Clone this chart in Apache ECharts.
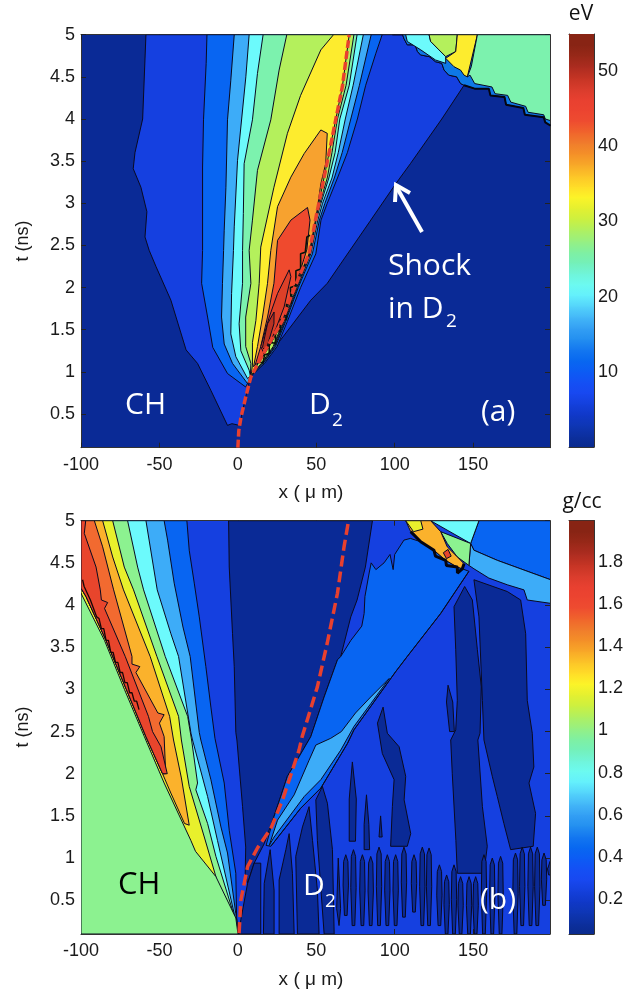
<!DOCTYPE html>
<html>
<head>
<meta charset="utf-8">
<script src="https://cdn.jsdelivr.net/npm/echarts@6/dist/echarts.min.js"></script>
<style>
  html, body { margin: 0; background: #fff; }
  #main { width: 637px; height: 994px; }
  /* the reference is a soft, resampled bitmap */
  #main canvas { filter: blur(0.5px); }
</style>
</head>
<body>
<div id="main"></div>
<script>
// axis ticks
var xTicks = [-100, -50, 0, 50, 100, 150];
var tTicks = [0.5, 1, 1.5, 2, 2.5, 3, 3.5, 4, 4.5, 5];
var evTicks = [10, 20, 30, 40, 50];
var rhoTicks = [0.2, 0.4, 0.6, 0.8, 1, 1.2, 1.4, 1.6, 1.8];

// colorbar, bottom to top
var barColors = ['#0a2a8c','#0c2f9e','#0e36b4','#1038c8','#1440dc','#1848f0','#1450f4','#0c5cf4','#0868f0','#1478f0',
  '#2490f0','#34a0f4','#44b8f8','#54d4fb','#64f0fc','#6cfaf0','#70f4d8','#74f0b8','#80f0a0','#98f080','#b0f060',
  '#ccf040','#e4f030','#fcf428','#ffdc28','#fcc428','#f8a828','#f49028','#f07c2c','#f0642c','#ee4c30','#ec4430',
  '#e84030','#d83c2c','#c43424','#ac2c20','#982818','#882414'];

// band colours
var navy = '#0a2a96', blue = '#1540e0', azure = '#0865f2', sky = '#3dacf8', cyan = '#6cfafc', green = '#7cf2ae',
  lime = '#b4f05c', yellow = '#fdec2e', orange = '#f7a22f', red = '#ef4a2e', dred = '#dc4028', ddred = '#b83222';
var chGreen = '#8cf290', bYellow = '#e8f02c', bOrange = '#fbb22c', bOrange2 = '#f26a30', bRed = '#e8452c';

// ---- panel (a), temperature contours as [x um, t ns] ----
var aInterface = [[0,0.1],[0.6,0.3],[2,0.46],[5,0.7],[8.3,0.94],[14.6,1.16],[21,1.37],[28.4,1.61],[34,1.9],[40,2.17],[45.4,2.4],[50,2.85],[56,3.4],[61.4,3.9],[66.6,4.38],[71,5]];
var aLeft1 = [[1,0.37],[-0.2,0.37],[-3.8,0.385],[-6.6,0.365],[-17.2,0.78],[-25.7,1.1],[-33,1.26],[-42.7,1.85],[-52.2,2.25],[-56.5,2.44],[-59.2,2.6],[-58,2.9],[-61.8,3.19],[-66.7,3.41],[-65.6,3.6],[-60.7,4],[-58.6,5]];
var aStair = [[98.5,5],[105,5],[106,4.95],[108,4.88],[113,4.88],[114.5,4.8],[116.5,4.76],[122,4.74],[126,4.68],[130,4.66],[131.5,4.58],[134.5,4.52],[139.5,4.5],[142,4.42],[144.2,4.4]];
var aShock = [[130,4],[110,3.47],[100.6,3.23],[84,2.78],[67.7,2.34],[57,2.05],[46.5,1.85],[35.9,1.59],[25.3,1.33],[14.6,1.1],[8,0.94],[5,0.7]];
var aLeft2 = [[5,0.82],[-6.6,0.98],[-16,1.29],[-19.3,1.65],[-23.1,2.05],[-22.5,2.44],[-22.5,3.43],[-21.9,3.99],[-20.2,4.66],[-19.7,5]];
var aRight2 = [[92,5],[88,4.78],[81.5,4.4],[76.2,4],[69.8,3.6],[63.5,3.3],[57,3],[53,2.8],[49.7,2.4],[40,2],[31.6,1.6],[25,1.3],[17,1.1],[8.5,0.95]];
var aLeft3 = [[6.2,0.86],[-3.4,1.1],[-8.7,1.33],[-10.4,1.65],[-9.8,2.05],[-9.1,2.44],[-8.7,2.68],[-7.6,3.19],[-6.6,3.99],[-4.5,4.46],[-2.3,5]];
var aRight3 = [[85,5],[77.5,4.4],[72,4],[66.5,3.6],[61.5,3.3],[55.5,3],[52,2.8],[47.5,2.4],[38.5,2],[30.5,1.6],[24,1.3],[16,1.1],[8,0.95]];
var aLeft4 = [[6.2,0.92],[-1.3,1.18],[-4.5,1.45],[-4,1.93],[-2.8,2.44],[-2.3,2.72],[-0.2,3.51],[5.1,4.5],[7.2,5]];
var aRight4 = [[80,5],[73.5,4.4],[68.5,4],[64,3.6],[60,3.3],[54,3],[51,2.8],[46.5,2.4],[38,2],[30,1.6],[23.5,1.3],[16,1.1],[8,0.95]];
var aLeft5 = [[7.2,1.02],[1.9,1.25],[0.8,1.57],[3,2.05],[3,2.44],[3.5,2.88],[4,3.47],[9.3,3.99],[12.5,4.54],[16.1,5]];
var aRight5 = [[76,5],[71,4.4],[65,4],[62,3.6],[58,3.3],[53,3],[50,2.8],[46,2.4],[37.5,2],[29.5,1.6],[23,1.3],[15.5,1.1],[8,0.95]];
var aLeft6 = [[8.3,1.1],[5,1.3],[5,1.65],[8.3,2.05],[7.2,2.44],[9.3,2.8],[12.5,3.39],[21,3.99],[26.3,4.58],[31.2,5]];
var aRight6 = [[74,5],[69,4.4],[63.5,4],[60,3.6],[57,3.3],[52.3,3],[49,2.8],[45.5,2.4],[37,2],[29,1.6],[22.5,1.3],[15,1.1],[8,0.95]];
var aLeft7 = [[9.3,1.08],[9.3,1.35],[11.5,1.61],[13.6,2.05],[14.6,2.48],[23,3.19],[31.6,3.83],[40,4.28],[52.9,4.82],[61,5]];
var aRight7 = [[71,5],[66.6,4.38],[61.4,3.9],[56,3.4],[50,2.85],[45.4,2.4],[40,2.17],[34,1.9],[28.4,1.61],[21,1.37],[14.6,1.16],[8.3,0.94]];
var aOrange = [[10,1.06],[12.5,1.3],[15.7,1.65],[18.9,2.05],[21,2.44],[25.3,2.96],[33.8,3.31],[42.3,3.59],[52.9,3.87],[57,3.83],[56,3.47],[52.9,3.23],[50,2.85],[45.4,2.4],[40,2.17],[34,1.9],[28.4,1.61],[21,1.37],[14.6,1.16]];
var aRed = [[11,1.08],[14.6,1.3],[18.9,1.65],[23,2.05],[25.3,2.56],[33.8,2.8],[44.4,2.95],[46,2.8],[44,2.45],[39,2.15],[33,1.85],[27.5,1.55],[20,1.3],[14,1.12]];
var aDarkRed = [[14.6,1.3],[20,1.65],[25.3,1.93],[32.7,2.21],[33.8,2.13],[29.5,1.77],[23,1.45],[16.8,1.21]];
var aDarkest = [[15.7,1.29],[18.9,1.57],[23.1,1.71],[23,1.57],[17.8,1.25]];
var aTopEdge = [[98.5,5],[199.4,5],[199.4,3.92],[196,3.96],[195,4.02],[183,4.05],[182,4.13],[171,4.17],[170,4.26],[161,4.28],[160,4.36],[151,4.36],[144.2,4.4],[142,4.42],[139.5,4.5],[134.5,4.52],[131.5,4.58],[130,4.66],[126,4.68],[122,4.74],[116.5,4.76],[114.5,4.8],[113,4.88],[108,4.88],[106,4.95],[105,5]];
var aTopGreen = [[152.7,5],[199.4,5],[199.4,3.98],[196,4],[195,4.05],[185,4.08],[183.5,4.15],[174,4.2],[172,4.28],[164,4.3],[162,4.38],[151,4.42],[148,4.52],[146.3,4.5],[148.8,4.62]];
var aTopYellow = [[139.9,5],[152.7,5],[146.3,4.5],[144.2,4.52],[142,4.58],[137.8,4.62],[132.5,4.72],[138.9,4.8]];
var aTopLime = [[121.9,5],[139.9,5],[138.9,4.8],[132.5,4.74],[128.2,4.82],[122.9,4.92]];
var aTopCyan = [[107,5],[121.9,5],[122.9,4.92],[128.2,4.82],[132.5,4.74],[132.5,4.66],[126,4.7],[116.6,4.82],[108,4.92]];
var aNoise = [[14,1.12],[16,1.1],[17,1.2],[20,1.22],[20,1.35],[24,1.34],[24,1.5],[27,1.48],[27,1.62],[31,1.62],[31,1.8],[34,1.82],[33.5,2],[37,2.02],[37,2.2],[40,2.22],[40,2.4],[43,2.42],[44,2.6],[46,2.62]];
var aStairLine = [[144.2,4.4],[151,4.36],[160,4.36],[161,4.28],[170,4.26],[171,4.17],[182,4.13],[183,4.05],[195,4.02],[196,3.96],[199.4,3.92]];

// ---- panel (b), density contours ----
var bInterface = [[0.8,0.11],[1.9,0.5],[6.2,0.9],[12.5,1.12],[21,1.35],[28.5,1.69],[39,2.28],[41,2.44],[50.7,3.03],[57,3.55],[63.5,4.14],[67.7,4.69],[70.3,4.97]];
var bAzureL = [[-32.5,5],[-31,4.65],[-27.8,4.26],[-24.6,3.86],[-20.4,3.27],[-17.2,2.79],[-14.6,2.42],[-8.7,1.89],[-5.5,1.33],[-1.3,0.82],[-0.8,0.3]];
var bSkyL = [[-47,5],[-44.8,4.77],[-40.6,4.26],[-35,3.74],[-30.4,3.39],[-24.6,2.49],[-23.6,2.4],[-17.2,1.93],[-10.8,1.37],[-6.6,1.06],[-1.3,0.34]];
var bCyanL = [[-58.6,5],[-51.4,4.18],[-42.7,3.66],[-37.8,3.39],[-29.9,2.48],[-28.9,2.4],[-19.3,1.73],[-13,1.21],[-2.3,0.34]];
var bGreenL = [[-70.3,5],[-63.9,4.45],[-60.1,4.18],[-46.3,3.39],[-32,2.68],[-29.5,2.4],[-25.7,1.89],[-26.8,1.81],[-19.3,1.41],[-14,1.02],[-3.4,0.38]];
var bYellowL = [[-79.8,5],[-72.4,4.45],[-66.5,4.18],[-51.6,3.39],[-37.8,2.68],[-36,2.4],[-31,1.85],[-21.4,1.25],[-14,0.78]];
var bOrangeL = [[-86.2,5],[-79.8,4.57],[-72.9,4.18],[-55.9,3.39],[-43.5,2.68],[-41,2.4],[-36,1.95],[-31,1.39]];
var bOrange2L = [[-91.5,5],[-86.2,4.69],[-79.2,4.18],[-67.5,3.39],[-67.5,3.3],[-62.5,3.27],[-65,3.2],[-51,2.72],[-47,2.7],[-50,2.6],[-47,2.44],[-46,2]];
var bRedL = [[-97,5],[-97.9,4.85],[-90.4,4.45],[-87.7,4.18],[-87,4.06],[-83,4.03],[-85,3.96],[-71.8,3.39],[-57,2.68],[-54.4,2.5],[-49,2.32],[-45,2]];
var bLowerEdge = [[-31,1.39],[-34,1.41],[-42.7,1.77],[-48,2],[-58.6,2.44],[-71.3,3.01],[-84,3.58],[-96.8,4.1],[-100,4.2]];
var bCH = [[-100,4.14],[-85,3.58],[-72.3,3],[-59.6,2.44],[-47,1.89],[-30,1.21],[-27,1.08],[-14,0.78],[-1.3,0.29],[0,0.11],[0,0.1],[-100,0.1]];
var bNoise = [[-99,4.3],[-98,4.22],[-97,4.24],[-96,4.14],[-95,4.16],[-94,4.06],[-93,4.06],[-92,3.96],[-91,3.96],[-90,3.86],[-88.5,3.84],[-87,3.72],[-85.5,3.72],[-84,3.58],[-82.5,3.58],[-81,3.44],[-79.5,3.44],[-78,3.32],[-76.5,3.32],[-75,3.2],[-73.5,3.2],[-72,3.08],[-70.5,3.08],[-69,2.96],[-67.5,2.96],[-66,2.86],[-64.5,2.86],[-63,2.76]];
var bNavy = [[4.7,0.82],[5,1.13],[3,1.61],[-0.6,2.4],[-1.3,2.49],[-2.3,3.27],[-3.4,3.66],[-5.5,4.45],[-5.9,5],[85.8,5],[81.3,4.45],[76,4.06],[72,3.86],[65.6,3.39],[63.5,3.35],[55,2.91],[46.5,2.44],[39,2.2],[31.6,1.97],[23,1.49],[16.8,1.17],[10.4,0.94],[6.2,0.7]];
var bWedge = [[1.9,0.27],[6.2,0.7],[10.4,0.94],[14.6,0.94],[14.6,0.1],[0.8,0.1]];
var bAzureWedge = [[65.6,3.39],[72,3.58],[79,3.75],[80.5,3.9],[81,4.1],[83.7,4.38],[85,4.5],[88,4.42],[93.2,4.5],[97,4.6],[99,4.42],[100,4.6],[105.9,4.77],[110,4.79],[116.6,4.75],[125,4.65],[132.5,4.53],[139.9,4.45],[143.1,4.43],[147.3,4.4],[129.3,3.9],[108,3.39],[100.6,3.21],[74,2.52],[69.9,2.36],[52.9,1.83],[40,1.59],[21,1.14],[18,1.15],[23,1.49],[31.6,1.97],[39,2.2],[46.5,2.44],[55,2.91],[63.5,3.35]];
var bSkyWedge = [[20,1.15],[25.3,1.45],[35.9,1.75],[45.4,2.16],[49.7,2.34],[59.2,2.42],[66,2.5],[75,2.72],[84.7,2.91],[96.5,3.13],[84.7,2.83],[74,2.56],[65.6,2.28],[52.9,1.93],[42.3,1.73],[23.1,1.25]];
var bTopAzure = [[153.7,5],[199.4,5],[199.4,4.3],[165.4,4.53],[150.5,4.65],[148.4,4.73]];
var bTopSky = [[148.4,4.73],[150.5,4.65],[165.4,4.53],[199.4,4.3],[199.4,4.02],[184.5,4.06],[182.4,4.18],[171.8,4.24],[160,4.32],[150.5,4.43],[147.3,4.47]];
var bTopCyan = [[122.9,5],[153.7,5],[148.4,4.73]];
var bTopGreen = [[129.3,4.87],[148.4,4.73],[147.3,4.47],[139.9,4.57],[133.5,4.73]];
var bTopOrange = [[107,5],[122.9,5],[129.3,4.87],[133.5,4.69],[138.9,4.59],[144.2,4.49],[143.1,4.43],[139.9,4.45],[132.5,4.53],[125,4.65],[116.6,4.75],[110.2,4.87]];
var bTopYellow = [[107,5],[116.6,5],[118,4.9],[112,4.87]];
var bTopRed = [[131,4.62],[134,4.66],[136,4.58],[133,4.55]];
var bStairLine = [[110.2,4.87],[116.6,4.75],[125,4.65],[126,4.58],[132.5,4.53],[133,4.47],[139.9,4.45],[140,4.38],[143.1,4.43],[144.2,4.49]];
var bShock = [[147.3,4.4],[129.3,3.9],[108,3.39],[100.6,3.21],[74,2.52],[69.9,2.36],[52.9,1.83],[40,1.59],[21,1.14]];
// large dark fingers below the shock
var bTall1 = [[144.6,4.22],[149.5,4.06],[152.7,3.47],[155.2,3.03],[154.4,2.48],[153,2.4],[155.9,1.61],[159,1.14],[156.9,0.82],[139.9,0.82],[139,1.21],[136.7,2],[135.7,2.4],[138.9,2.52],[139.9,2.87],[138.9,3.47],[137.8,3.98]];
var bTall2 = [[150.5,4.3],[171.8,4.16],[180.3,4.06],[183.5,3.66],[184.5,2.87],[187.7,2.48],[188.7,2.08],[185.6,1.89],[189.8,1.53],[188.3,1.14],[173.9,1.1],[169.6,1.41],[165.4,1.73],[162.2,1.97],[156.9,2.4],[155.9,2.87],[153.7,3.86]];
var bTall3 = [[134,3.05],[133,2.85],[135,2.5],[138,2.5],[137,2.85]];
var bTall4 = [[92.6,2.79],[95.3,2.48],[102.8,2.32],[107,1.97],[106,1.69],[110.2,1.29],[108,1.14],[97.4,1.14],[98.5,1.61],[99.6,1.93],[92.1,2.24],[89,2.6]];
var bTall5 = [[73,2.14],[75.5,1.7],[75,1.2],[71,1.2],[71,1.7]];
var bTall6 = [[82,1.75],[83.5,1.4],[84,1.1],[80.5,1.1],[80.5,1.4]];
var bTall7 = [[91,1.5],[92,1.25],[90,1.25]];
var bLow1 = [[20.6,1.1],[23.1,0.62],[23.1,0.1],[16.3,0.1],[16.8,0.7]];
var bLow2 = [[32.7,1.29],[34.8,0.82],[35.9,0.1],[26.3,0.1],[26.3,0.74],[30.6,1.1]];
var bLow3 = [[45.4,1.61],[47.6,1.21],[50.7,0.62],[51.8,0.1],[38,0.1],[36.9,1.02],[41.2,1.37]];
var bLow4 = [[53.9,1.85],[57.1,1.65],[60.3,1.1],[61.4,0.1],[55,0.1],[50.7,1.21],[49.7,1.69]];
var bLow5 = [[64,1.0],[65.5,0.4],[64.5,0.2],[63,0.4]];
// narrow fingers near the bottom: centre, top and bottom
var fingerX = [68.8,73.7,79.4,84.7,90,95.3,100.6,105.9,112.3,117.6,121.9,128.5,133.1,137.8,142,147.4,151.6,156.9,162.2,167.5,177,181.3,186.6,190.9,195.2,199];
var fingerTop = [1.04,1.1,1.04,1.02,1.13,1.04,1.04,1.13,1.04,1.13,1.12,0.92,0.8,0.92,0.78,0.78,0.78,1.04,1,1.02,1.06,1.13,1.13,1.13,1.06,0.96];
var fingerBot = [0.32,0.2,0.2,0.2,0.2,0.2,0.2,0.3,0.36,0.2,0.2,0.2,0.1,0.1,0.1,0.1,0.1,0.1,0.1,0.1,0.1,0.2,0.2,0.2,0.44,0.8];

var LEFT_X = -100, RIGHT_X = 199, MIN_T = 0.1, MAX_T = 5;

function finger(x, top, bot) {
  var w = 1.7;
  return [[x, top], [x + w * 0.8, top - 0.08], [x + w, (top + bot) / 2], [x + w * 0.5, bot], [x - w * 0.5, bot], [x - w, (top + bot) / 2], [x - w * 0.8, top - 0.08]];
}

var aLayers = [
  [aLeft1.concat(aStair, aShock), blue],
  [aLeft2.concat(aRight2), azure],
  [aLeft3.concat(aRight3), sky],
  [aLeft4.concat(aRight4), cyan],
  [aLeft5.concat(aRight5), green],
  [aLeft6.concat(aRight6), lime],
  [aLeft7.concat(aRight7), yellow],
  [aOrange, orange],
  [aRed, red],
  [aDarkRed, dred],
  [aDarkest, ddred],
  [aTopEdge, '#0e78e6'],
  [aTopCyan, cyan],
  [aTopLime, lime],
  [aTopYellow, yellow],
  [aTopGreen, green]
];

function leftBand(boundary) {
  return [[LEFT_X, MAX_T]].concat(boundary, [[0.5, MIN_T], [LEFT_X, MIN_T]]);
}

var bLayers = [
  [leftBand(bAzureL), azure],
  [leftBand(bSkyL), sky],
  [leftBand(bCyanL), cyan],
  [leftBand(bGreenL), chGreen],
  [[[LEFT_X, MAX_T]].concat(bYellowL, [[-14, 0.6], [LEFT_X, 0.6]]), bYellow],
  [[[LEFT_X, MAX_T]].concat(bOrangeL, bLowerEdge), bOrange],
  [[[LEFT_X, MAX_T]].concat(bOrange2L, bLowerEdge.slice(3)), bOrange2],
  [[[LEFT_X, MAX_T]].concat(bRedL, bLowerEdge.slice(3)), bRed],
  [bCH, chGreen],
  [bNavy, navy],
  [bAzureWedge, azure],
  [bSkyWedge, sky],
  [bTopAzure, azure],
  [bTopSky, sky],
  [bTopCyan, cyan],
  [bTopGreen, chGreen],
  [bTopOrange, bOrange],
  [bTopYellow, bYellow],
  [bTopRed, bRed],
  [bWedge, navy],
  [bTall1, navy], [bTall2, navy], [bTall3, navy], [bTall4, navy], [bTall5, navy], [bTall6, navy], [bTall7, navy],
  [bLow1, navy], [bLow2, navy], [bLow3, navy], [bLow4, navy], [bLow5, navy]
];
fingerX.forEach(function (x, i) {
  bLayers.push([finger(x, fingerTop[i], fingerBot[i]), navy]);
});

function contourSeries(axis, layers) {
  return {
    type: 'custom', xAxisIndex: axis, yAxisIndex: axis, clip: true, silent: true, z: 2,
    data: layers.map(function (l, i) { return i; }),
    renderItem: function (params, api) {
      var l = layers[params.dataIndex];
      return {
        type: 'polygon',
        shape: { points: l[0].map(function (p) { return api.coord(p); }) },
        style: { fill: l[1], stroke: '#0a0a20', lineWidth: 1 }
      };
    }
  };
}

function lineSeries(axis, data, color, width, dash) {
  return {
    type: 'line', xAxisIndex: axis, yAxisIndex: axis, data: data, showSymbol: false, silent: true, z: 4,
    lineStyle: { color: color, width: width, type: dash || 'solid' }
  };
}

function barSeries(axis, lo, hi) {
  var step = (hi - lo) / barColors.length;
  return {
    type: 'custom', xAxisIndex: axis, yAxisIndex: axis, clip: true, silent: true, z: 2,
    data: barColors.map(function (c, i) { return i; }),
    renderItem: function (params, api) {
      var i = params.dataIndex;
      var a = api.coord([0, lo + i * step]), b = api.coord([1, lo + (i + 1) * step]);
      var next = barColors[Math.min(i + 1, barColors.length - 1)];
      return {
        type: 'rect',
        shape: { x: a[0], y: b[1], width: b[0] - a[0], height: a[1] - b[1] + 1 },
        style: { fill: new echarts.graphic.LinearGradient(0, 1, 0, 0, [{ offset: 0, color: barColors[i] }, { offset: 1, color: next }]) }
      };
    }
  };
}

var tickFont = { color: '#1a1a1a', fontSize: 18, fontFamily: 'Liberation Sans' };
var frame = { show: true, onZero: false, lineStyle: { color: '#333', width: 1 } };
var innerTick = { show: true, inside: true, length: 5, lineStyle: { color: '#222' } };

function xAxes(grid, min, max, ticks) {
  var show = !!ticks;
  var tick = Object.assign({}, innerTick, { customValues: ticks });
  return [
    { type: 'value', gridIndex: grid, position: 'bottom', min: min, max: max, splitLine: { show: false }, axisLine: frame,
      axisTick: show ? tick : { show: false },
      axisLabel: show ? Object.assign({ customValues: ticks, margin: 8 }, tickFont) : { show: false } },
    { type: 'value', gridIndex: grid, position: 'top', min: min, max: max, splitLine: { show: false }, axisLine: frame,
      axisTick: show ? tick : { show: false }, axisLabel: { show: false } }
  ];
}

function yAxes(grid, min, max, ticks, labelRight) {
  var tick = Object.assign({}, innerTick, { customValues: ticks });
  var label = Object.assign({ customValues: ticks, margin: labelRight ? 4 : 6 }, tickFont);
  return [
    { type: 'value', gridIndex: grid, position: 'left', min: min, max: max, splitLine: { show: false }, axisLine: frame,
      axisTick: tick, axisLabel: labelRight ? { show: false } : label },
    { type: 'value', gridIndex: grid, position: 'right', min: min, max: max, splitLine: { show: false }, axisLine: frame,
      axisTick: tick, axisLabel: labelRight ? label : { show: false } }
  ];
}

function textAt(x, y, text, size, color, family, rotation) {
  return {
    type: 'text', x: x, y: y, rotation: rotation || 0, silent: true, z: 20,
    style: { text: text, fontSize: size, fill: color, fontFamily: family || 'Open Sans', align: 'left', verticalAlign: 'middle' }
  };
}

function centered(el) { el.style.align = 'center'; return el; }

var myChart = echarts.init(document.getElementById('main'), null, { renderer: 'canvas' });
myChart.setOption({
  animation: false,
  backgroundColor: '#fff',
  grid: [
    { left: 81, top: 34.7, width: 469, height: 413, show: true, backgroundColor: navy, borderWidth: 0 },
    { left: 81, top: 520.7, width: 469, height: 413.3, show: true, backgroundColor: blue, borderWidth: 0 },
    { left: 569, top: 34, width: 25, height: 413 },
    { left: 569, top: 520.5, width: 25, height: 413.5 }
  ],
  xAxis: [].concat(
    xAxes(0, LEFT_X, RIGHT_X, xTicks), xAxes(1, LEFT_X, RIGHT_X, xTicks),
    xAxes(2, 0, 1), xAxes(3, 0, 1)
  ),
  yAxis: [].concat(
    yAxes(0, MIN_T, MAX_T, tTicks), yAxes(1, MIN_T, MAX_T, tTicks),
    yAxes(2, 0, 54.9, evTicks, true), yAxes(3, 0.034, 1.997, rhoTicks, true)
  ),
  series: [
    contourSeries(0, aLayers),
    lineSeries(0, aNoise, '#06140a', 1.6),
    lineSeries(0, aStairLine, '#050510', 2),
    lineSeries(0, aInterface, '#e8402e', 3.5, [8, 3]),
    contourSeries(2, bLayers),
    lineSeries(2, bNoise, '#140606', 1.3),
    lineSeries(2, bStairLine, '#050510', 3),
    lineSeries(2, bShock, '#0a0a20', 1),
    lineSeries(2, bInterface, '#e8402e', 3.5, [11, 5]),
    barSeries(4, 0, 54.9),
    barSeries(6, 0.034, 1.997)
  ],
  graphic: [
    textAt(125, 405, 'CH', 30, '#fff'),
    textAt(309, 405, 'D', 30, '#fff'),
    textAt(332, 421, '2', 19, '#fff'),
    textAt(388, 266, 'Shock', 30, '#fff'),
    textAt(388, 309, 'in D', 30, '#fff'),
    textAt(446, 322, '2', 19, '#fff'),
    textAt(481, 412, '(a)', 30, '#fff'),
    textAt(118, 885, 'CH', 31, '#000'),
    textAt(303, 886, 'D', 30, '#fff'),
    textAt(325, 902, '2', 19, '#fff'),
    textAt(480, 900, '(b)', 30, '#fff'),
    centered(textAt(581, 14, 'eV', 21, '#111')),
    centered(textAt(582, 502, 'g/cc', 21, '#111')),
    centered(textAt(311, 493, 'x ( μ m)', 19, '#1a1a1a', 'Liberation Sans')),
    centered(textAt(311, 980, 'x ( μ m)', 19, '#1a1a1a', 'Liberation Sans')),
    centered(textAt(23, 241, 't (ns)', 18, '#1a1a1a', 'Liberation Sans', Math.PI / 2)),
    centered(textAt(23, 727, 't (ns)', 18, '#1a1a1a', 'Liberation Sans', Math.PI / 2)),
    { type: 'polyline', silent: true, z: 20, shape: { points: [[422, 232], [396, 186]] }, style: { stroke: '#fff', lineWidth: 4, fill: null } },
    { type: 'polyline', silent: true, z: 20, shape: { points: [[395, 202], [396, 185], [410, 193]] }, style: { stroke: '#fff', lineWidth: 4, fill: null } }
  ]
});
</script>
</body>
</html>
